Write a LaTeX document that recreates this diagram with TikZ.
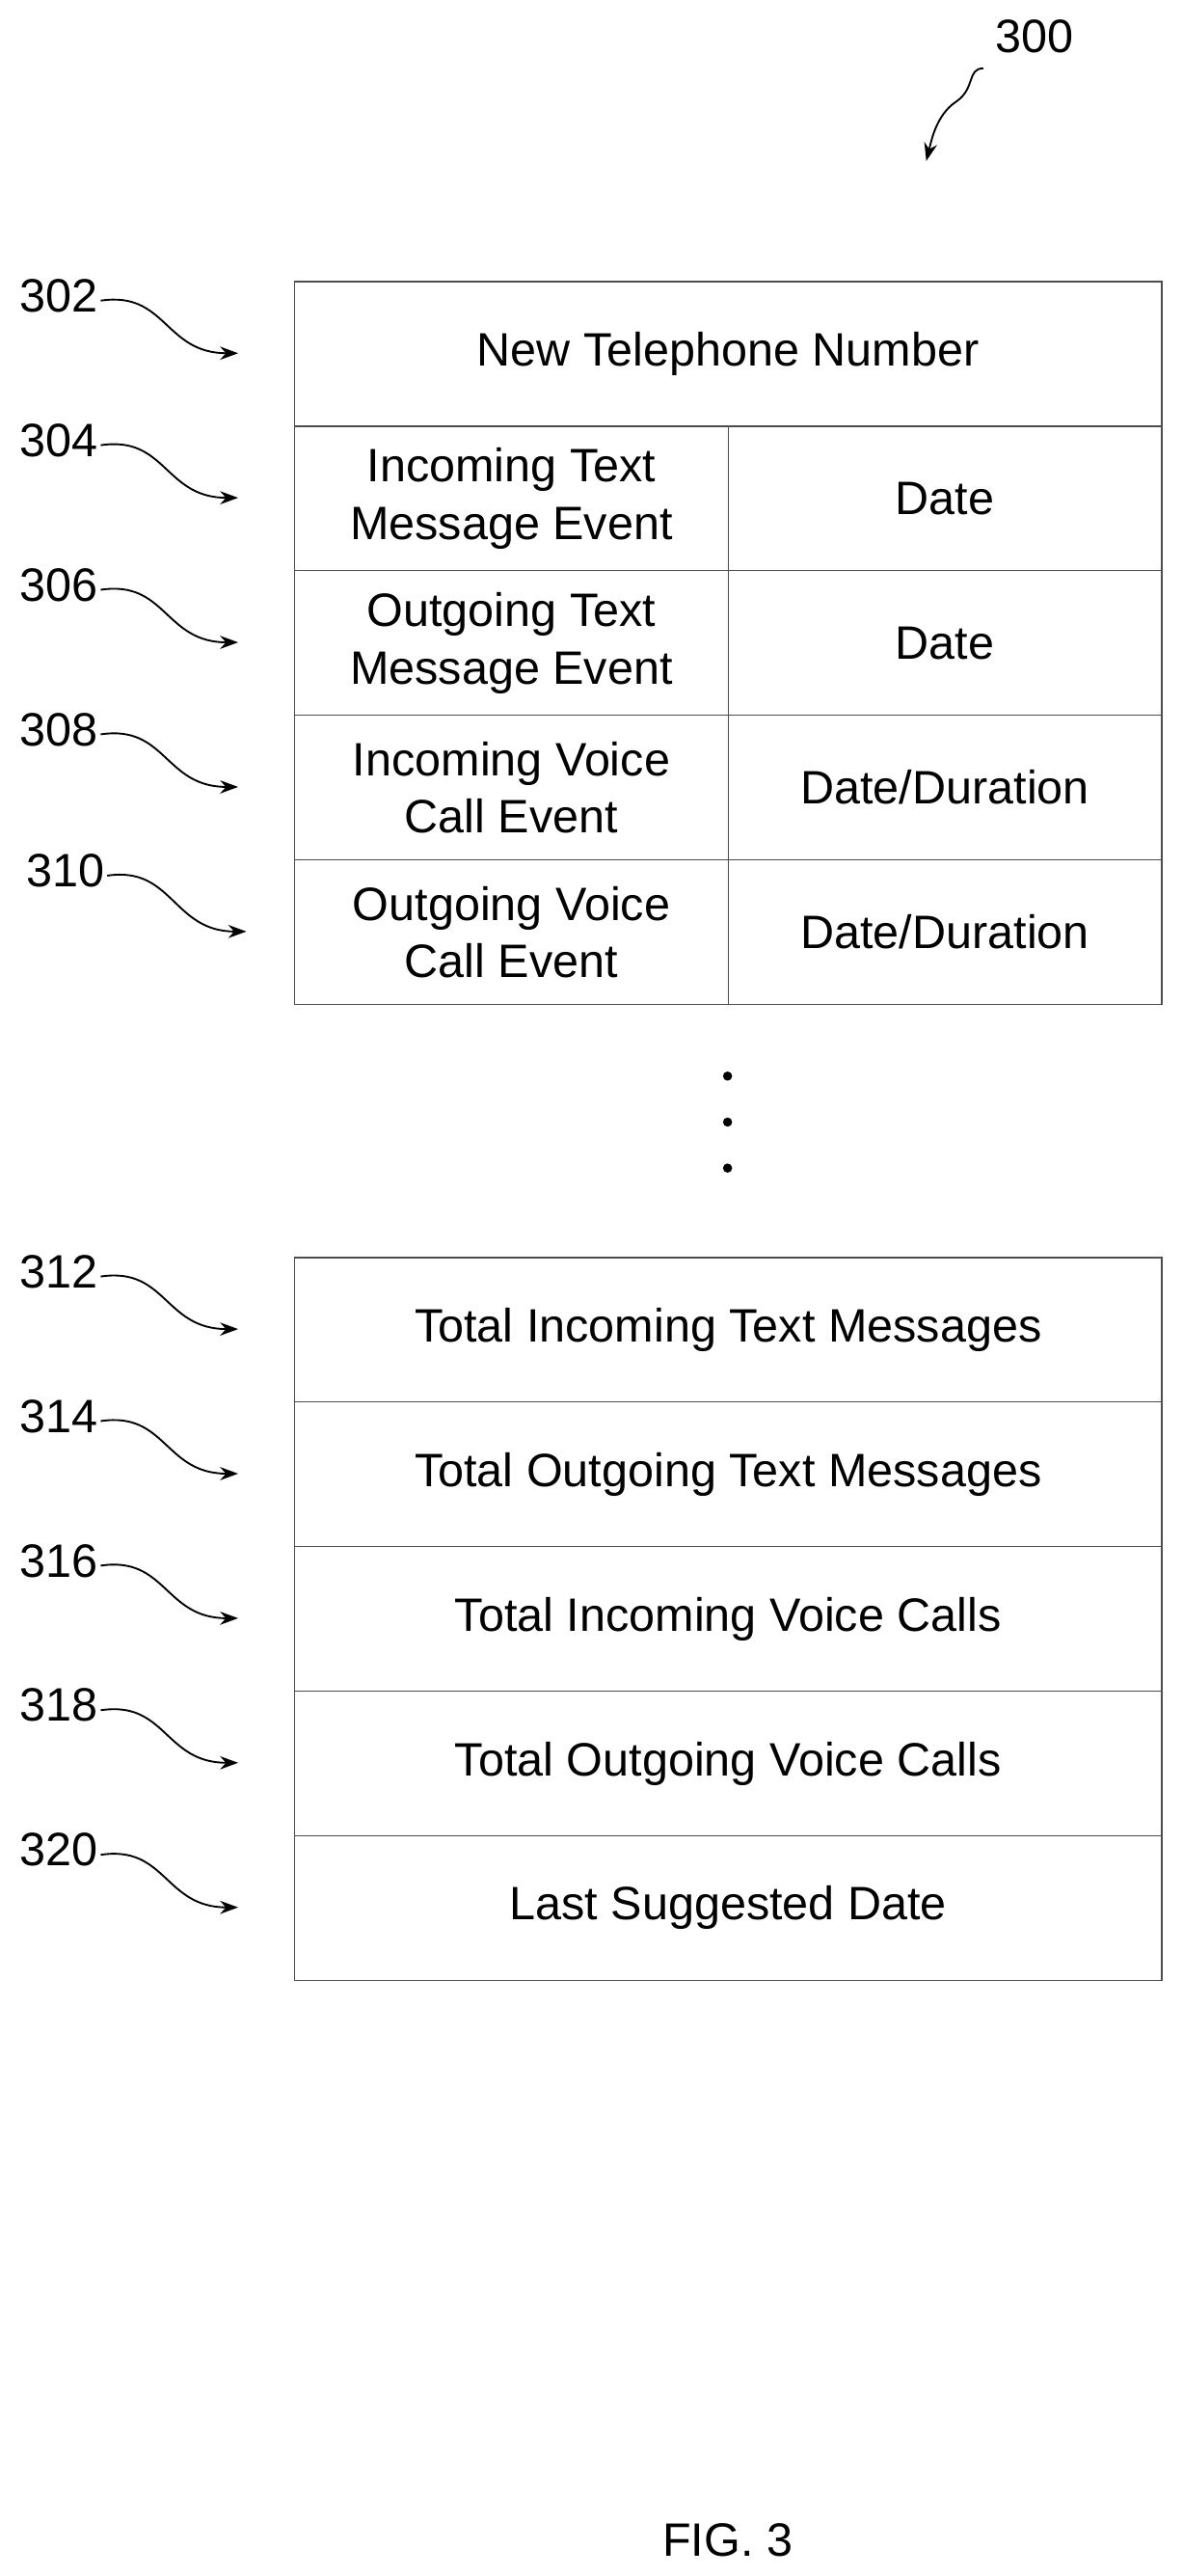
\documentclass[tikz,border=0pt]{standalone}
\usepackage{fontspec}
\setmainfont{Liberation Sans}
\usetikzlibrary{arrows.meta}
\begin{document}
\begin{tikzpicture}[x=1pt,y=-1pt,
  cell/.style={draw=black!70,line width=0.8pt,minimum height=88pt,inner sep=0pt,align=center,font=\fontsize{28.5}{35}\selectfont,anchor=north west},
  lbl/.style={font=\fontsize{28.5}{34}\selectfont},
  lead/.style={-{Stealth[length=11pt,width=8pt]},line width=1.1pt}]
\useasboundingbox (0,0) rectangle (720,1568);
\node[cell,minimum width=528pt] (r302) at (179,171) {New Telephone Number};
\node[cell,minimum width=264pt] (a304) at (179,259) {Incoming Text\\Message Event};
\node[cell,minimum width=264pt] (b304) at (443,259) {Date};
\node[cell,minimum width=264pt] (a306) at (179,347) {Outgoing Text\\Message Event};
\node[cell,minimum width=264pt] (b306) at (443,347) {Date};
\node[cell,minimum width=264pt] (a308) at (179,435) {Incoming Voice\\Call Event};
\node[cell,minimum width=264pt] (b308) at (443,435) {Date/Duration};
\node[cell,minimum width=264pt] (a310) at (179,523) {Outgoing Voice\\Call Event};
\node[cell,minimum width=264pt] (b310) at (443,523) {Date/Duration};
\node[cell,minimum width=528pt] (r312) at (179,765) {Total Incoming Text Messages};
\node[cell,minimum width=528pt] (r314) at (179,853) {Total Outgoing Text Messages};
\node[cell,minimum width=528pt] (r316) at (179,941) {Total Incoming Voice Calls};
\node[cell,minimum width=528pt] (r318) at (179,1029) {Total Outgoing Voice Calls};
\node[cell,minimum width=528pt] (r320) at (179,1117) {Last Suggested Date};
\foreach \y in {655,683,711} \fill (443,\y) circle (2.8pt);
\foreach \n/\y in {302/180,304/268,306/356,308/444,312/774,314/862,316/950,318/1038,320/1126}{
  \node[lbl] (l\n) at (36,\y) {\n};
  \coordinate (e\n) at (145,\y+35);
  \draw[lead] ([xshift=-2pt,yshift=-3pt]l\n.east) .. controls +(40,-6) and +(-45,0) .. (e\n);
}
\node[lbl] (l310) at (40,530) {310};
\coordinate (e310) at (150,567);
\draw[lead] ([xshift=-2pt,yshift=-3pt]l310.east) .. controls +(40,-6) and +(-45,0) .. (e310);
\node[lbl] (l300) at (630,22) {300};
\coordinate (e300) at (564,98);
\draw[lead] ([xshift=-4pt,yshift=-6pt]l300.south west) .. controls +(-10,0) and +(12,-8) .. (582,62) .. controls +(-12,8) and +(3,-12) .. (e300);
\node[lbl] (fig) at (443,1546) {FIG. 3};
\end{tikzpicture}
\end{document}
